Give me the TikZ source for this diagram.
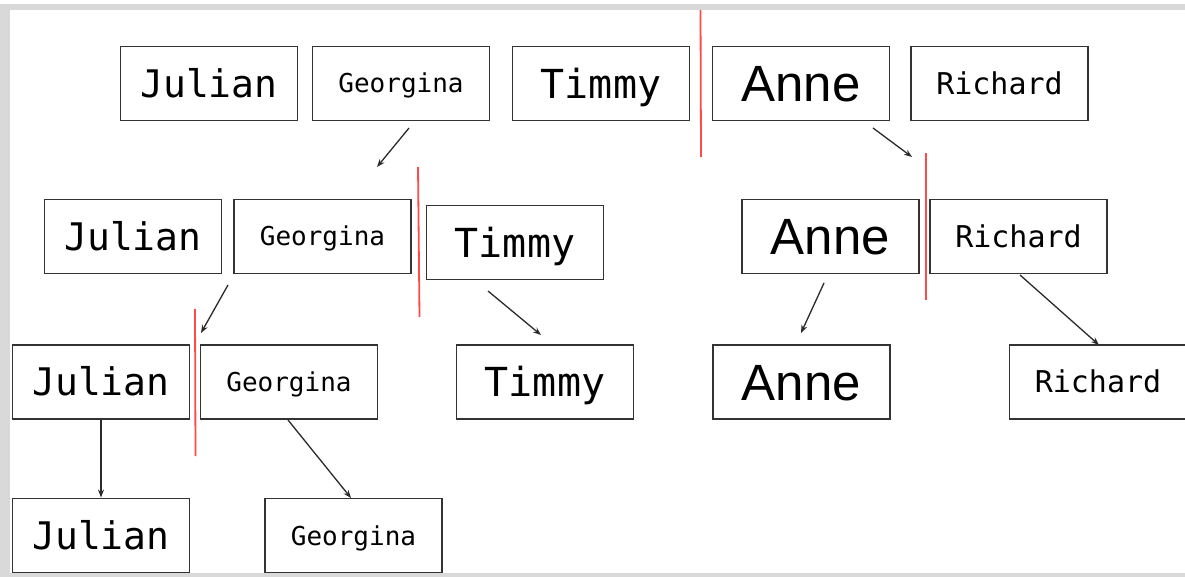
\documentclass[tikz,border=0pt]{standalone}
\usepackage{fontspec}
\usetikzlibrary{arrows.meta}
\newfontfamily\monofont{DejaVu Sans Mono}
\newfontfamily\plainsans{Liberation Sans}
\definecolor{boxline}{HTML}{333333}
\definecolor{splitred}{HTML}{FF4A4A}
\definecolor{framegray}{HTML}{D9D9D9}
\definecolor{arrowink}{HTML}{2A2A2A}
\tikzset{
  item/.style={draw=boxline, line width=1.9pt, minimum width=177pt, minimum height=74pt,
    inner sep=0pt, text depth=0pt, anchor=center},
  big/.style={item, text height=27.7pt, font=\monofont\fontsize{38}{38}\selectfont},
  small/.style={item, text height=19pt, font=\monofont\fontsize{26}{26}\selectfont},
  mid/.style={item, text height=21.9pt, font=\monofont\fontsize{30}{30}\selectfont},
  huge/.style={item, text height=29.2pt, font=\monofont\fontsize{40}{40}\selectfont},
  anne/.style={item, text height=36.5pt, font=\plainsans\fontsize{51}{51}\selectfont},
  split/.style={draw=splitred, line width=1.8pt},
  move/.style={draw=arrowink, line width=1.3pt, -{Stealth[length=8pt,width=6pt]}}
}
\begin{document}
\begin{tikzpicture}[x=1pt, y=-1pt]
  \useasboundingbox (0,0) rectangle (1185,577);
  % window frame
  \fill[framegray] (0,4) rectangle (1185,10);
  \fill[framegray] (0,4) rectangle (10,577);
  \fill[framegray] (0,573) rectangle (1185,577);

  % first level: whole list
  \node[big]   (j1) at (209,83.5)   {Julian};
  \node[small] (g1) at (401,83.5)   {Georgina};
  \node[huge]  (t1) at (601,83.5)   {Timmy};
  \node[anne]  (a1) at (801,83.5)   {Anne};
  \node[mid]   (r1) at (999.5,83.5) {Richard};

  % second level
  \node[big]   (j2) at (133,236.5)    {Julian};
  \node[small] (g2) at (322.5,236.5)  {Georgina};
  \node[huge]  (t2) at (515,242.5)    {Timmy};
  \node[anne]  (a2) at (830.5,236.5)  {Anne};
  \node[mid]   (r2) at (1018.5,236.5) {Richard};

  % third level
  \node[big]   (j3) at (101,382)   {Julian};
  \node[small] (g3) at (289,382)   {Georgina};
  \node[huge]  (t3) at (545,382)   {Timmy};
  \node[anne]  (a3) at (801.5,382) {Anne};
  \node[mid]   (r3) at (1098,382)  {Richard};

  % fourth level
  \node[big]   (j4) at (101,535.5)   {Julian};
  \node[small] (g4) at (353.5,535.5) {Georgina};

  % split markers
  \draw[split] (700.5,10) -- (701,157);
  \draw[split] (418,167) -- (419.5,317);
  \draw[split] (926,153) -- (926,300);
  \draw[split] (195,309) -- (195.5,456);

  % arrow end points
  \coordinate (m1s) at (409,128);
  \coordinate (m1e) at (377,167);
  \coordinate (m2s) at (873,128);
  \coordinate (m2e) at (912,157);
  \coordinate (m3s) at (228,285);
  \coordinate (m3e) at (201,333);
  \coordinate (m4s) at (488,291);
  \coordinate (m4e) at (541,335);
  \coordinate (m5s) at (824,283);
  \coordinate (m5e) at (801,333);
  \coordinate (r2b) at (1020,275);
  \coordinate (r3t) at (1099,345);
  \coordinate (g3b) at (288,420);
  \coordinate (g4t) at (351,498);

  % arrows
  \draw[move] (m1s) -- (m1e);
  \draw[move] (m2s) -- (m2e);
  \draw[move] (m3s) -- (m3e);
  \draw[move] (m4s) -- (m4e);
  \draw[move] (m5s) -- (m5e);
  \draw[move] (r2b) -- (r3t);
  \draw[move] (j3.south) -- (j4.north);
  \draw[move] (g3b) -- (g4t);
\end{tikzpicture}
\end{document}
